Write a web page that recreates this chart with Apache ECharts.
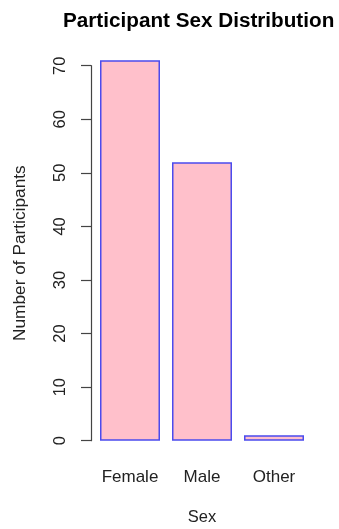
<!DOCTYPE html>
<html>
<head>
<meta charset="utf-8">
<script src="https://cdn.jsdelivr.net/npm/echarts@6/dist/echarts.min.js"></script>
<style>
  html, body { margin: 0; padding: 0; background: #fff; }
  #chart { width: 339px; height: 529px; }
</style>
</head>
<body>
<div id="chart"></div>
<script>
// Participant counts by sex
const categories = ['Female', 'Male', 'Other'];
const counts = [71, 52, 1];
const yTicks = [0, 10, 20, 30, 40, 50, 60, 70];

const font = '"Liberation Sans", Arial, sans-serif';
const chart = echarts.init(document.getElementById('chart'), null, { renderer: 'canvas' });

chart.setOption({
  animation: false,
  backgroundColor: '#ffffff',
  title: {
    text: 'Participant Sex Distribution',
    left: 58,
    top: 6,
    textStyle: { fontFamily: font, fontWeight: 'bold', fontSize: 20.7, color: '#000' }
  },
  grid: { left: 94, right: 29, top: 65.7, bottom: 88.3, containLabel: false, outerBoundsMode: 'none' },
  xAxis: {
    type: 'category',
    data: categories,
    name: 'Sex',
    nameLocation: 'middle',
    nameGap: 68,
    nameTextStyle: { fontFamily: font, fontSize: 16.5, color: '#222' },
    axisLine: { show: false },
    axisTick: { show: false },
    axisLabel: { interval: 0, margin: 28, fontFamily: font, fontSize: 17, color: '#222' }
  },
  yAxis: {
    type: 'value',
    min: yTicks[0],
    max: yTicks[yTicks.length - 1],
    interval: yTicks[1] - yTicks[0],
    offset: 3,
    name: 'Number of Participants',
    nameLocation: 'middle',
    nameRotate: 90,
    nameGap: 62,
    nameTextStyle: { fontFamily: font, fontSize: 17.3, color: '#222' },
    splitLine: { show: false },
    axisLine: { show: true, lineStyle: { color: '#444', width: 1.2 } },
    axisTick: { show: true, inside: false, length: 10, lineStyle: { color: '#444', width: 1.2 } },
    axisLabel: { rotate: 90, margin: 22, fontFamily: font, fontSize: 16.5, color: '#222' }
  },
  series: [{
    type: 'bar',
    data: counts,
    barWidth: 60,
    clip: false,
    itemStyle: { color: '#ffc0cb', borderColor: '#4b4bee', borderWidth: 1.5 }
  }]
});
</script>
</body>
</html>
